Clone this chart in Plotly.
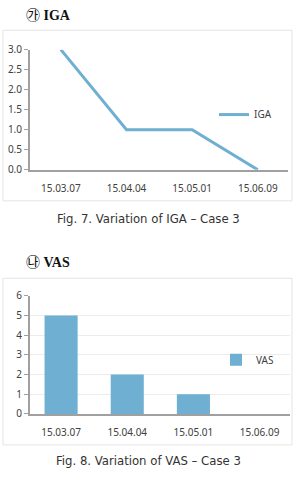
import plotly.graph_objects as go

W, H = 296, 482

dates = ["15.03.07", "15.04.04", "15.05.01", "15.06.09"]
iga_values = [3.0, 1.0, 1.0, 0.0]
vas_values = [5, 2, 1, 0]
iga_ticks = [0.0, 0.5, 1.0, 1.5, 2.0, 2.5, 3.0]
vas_ticks = [0, 1, 2, 3, 4, 5, 6]

def py(p):  # pixel y -> paper y
    return 1 - p / H

def px(p):
    return p / W

line_col = "#6eafd2"
bar_col = "#6eafd2"
axis_col = "#a0a0a0"
tick_font = dict(family="Noto Sans, DejaVu Sans", size=10, color="#404040")

fig = go.Figure()
fig.add_trace(go.Scatter(x=dates, y=iga_values, mode="lines", name="IGA",
                         line=dict(color=line_col, width=3),
                         xaxis="x", yaxis="y", legend="legend", cliponaxis=False))
fig.add_trace(go.Bar(x=dates, y=vas_values, name="VAS", marker_color=bar_col,
                     marker_line_width=0,
                     width=0.5, xaxis="x2", yaxis="y2", legend="legend2"))

xr = [-0.47, 3.46]
fig.update_layout(
    width=W, height=H, margin=dict(l=0, r=0, t=0, b=0),
    paper_bgcolor="white", plot_bgcolor="white",
    showlegend=True,
    xaxis=dict(domain=[px(30), px(288)], range=xr, type="category",
               showline=True, linecolor=axis_col, linewidth=2, showgrid=False,
               ticks="", tickfont=tick_font, ticklabelstandoff=8, anchor="y",
               zeroline=False),
    yaxis=dict(domain=[py(167), py(43)], range=[0, 3], tickvals=iga_ticks,
               tickformat=".1f", showline=True, linecolor=axis_col, linewidth=2,
               ticks="outside", ticklen=4, tickcolor=axis_col, tickwidth=1,
               showgrid=False, zeroline=False, tickfont=tick_font, anchor="x"),
    xaxis2=dict(domain=[px(30), px(290)], range=xr, type="category",
                showline=True, linecolor=axis_col, linewidth=2, showgrid=False,
                ticks="", tickfont=tick_font, ticklabelstandoff=8, anchor="y2",
                zeroline=False),
    yaxis2=dict(domain=[py(419), py(297)], range=[0, 6], tickvals=vas_ticks,
                showline=True, linecolor=axis_col, linewidth=2,
                ticks="outside", ticklen=4, tickcolor=axis_col, tickwidth=1,
                showgrid=True, gridcolor="#ececec", gridwidth=1,
                zeroline=False, tickfont=tick_font, anchor="x2"),
    legend=dict(x=px(214), y=py(110), xanchor="left", yanchor="middle",
                bgcolor="rgba(0,0,0,0)", font=dict(family="Noto Sans, DejaVu Sans", size=10, color="#404040"),
                itemwidth=30),
    legend2=dict(x=px(216), y=py(363), xanchor="left", yanchor="middle",
                 bgcolor="rgba(0,0,0,0)", font=dict(family="Noto Sans, DejaVu Sans", size=10, color="#404040"),
                 itemwidth=30),
    bargap=0.5,
)

# chart frames
for (y0, y1) in [(23, 199), (279, 451)]:
    fig.add_shape(type="rect", xref="paper", yref="paper",
                  x0=px(3), x1=px(292), y0=py(y1), y1=py(y0),
                  line=dict(color="#e4e4e4", width=1), layer="below")

head_font = dict(family="Liberation Serif, Noto Sans CJK KR", size=14, color="#111111")
fig.add_annotation(text="㉮ <b>IGA</b>", x=px(24), y=py(8), xref="paper", yref="paper",
                   xanchor="left", yanchor="middle", showarrow=False, font=head_font)
fig.add_annotation(text="㉯ <b>VAS</b>", x=px(24), y=py(263), xref="paper", yref="paper",
                   xanchor="left", yanchor="middle", showarrow=False, font=head_font)

cap_font = dict(family="DejaVu Sans Condensed, Roboto, Noto Sans", size=13, color="#333333")
fig.add_annotation(text="Fig. 7. Variation of IGA – Case 3", x=0.5, y=py(217),
                   xref="paper", yref="paper", xanchor="center", yanchor="middle",
                   showarrow=False, font=cap_font)
fig.add_annotation(text="Fig. 8. Variation of VAS – Case 3", x=0.5, y=py(467),
                   xref="paper", yref="paper", xanchor="center", yanchor="middle",
                   showarrow=False, font=cap_font)

fig.write_html("out.html")
